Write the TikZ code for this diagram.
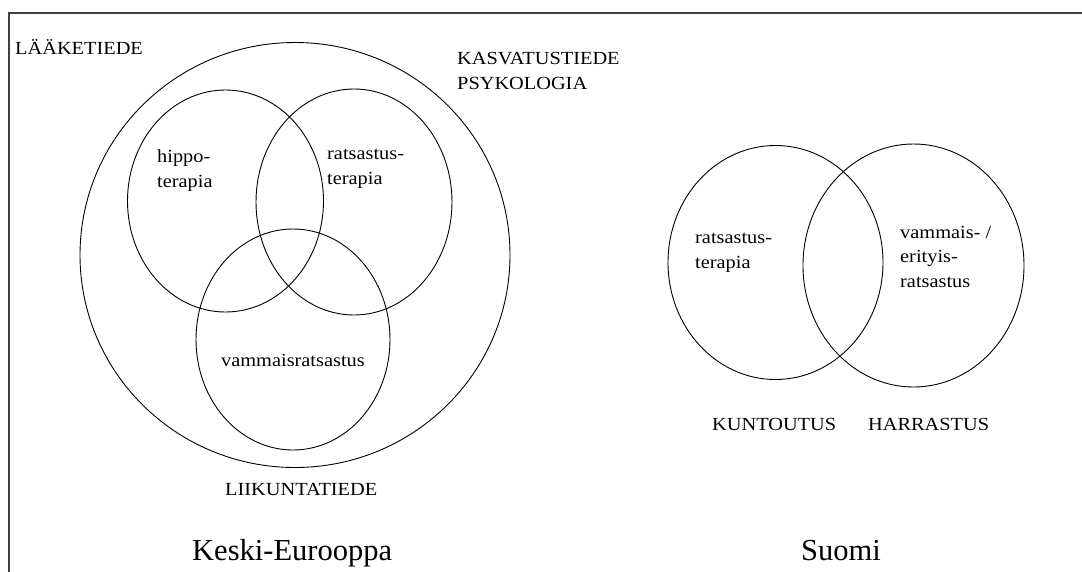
\documentclass[tikz,border=0pt]{standalone}
\usepackage{fontspec}
\setmainfont{Liberation Serif}[FakeStretch=1.1]
\newfontfamily\titlefont{Liberation Serif}
\usetikzlibrary{shapes.geometric}
\tikzset{
  venn/.style={ellipse, draw=black, line width=0.9pt, inner sep=0pt},
  field/.style={anchor=base west, inner sep=0pt, align=left,
    font=\fontsize{18.5}{24.5}\selectfont},
  areatitle/.style={anchor=base west, inner sep=0pt,
    font=\titlefont\fontsize{30.5}{34}\selectfont},
}

\begin{document}
\begin{tikzpicture}[x=1pt, y=-1pt]
  \useasboundingbox (0,0) rectangle (1082,571);
  \draw[black!75, line width=1.6pt] (9,13) rectangle (1100,590);

  % Keski-Eurooppa
  \node[venn, minimum width=430pt, minimum height=425pt] (tiede) at (295,255) {};
  \node[venn, minimum width=196pt, minimum height=222pt] (hippo) at (225.5,201) {};
  \node[venn, minimum width=196pt, minimum height=226pt] (terap) at (354,202) {};
  \node[venn, minimum width=194pt, minimum height=221pt] (vamm) at (293,339.5) {};

  % base = baseline of the last line
  \node[field] (laake) at (15,54) {LÄÄKETIEDE};
  \node[field] (kasv) at (457,89) {KASVATUSTIEDE\\PSYKOLOGIA};
  \node[field] (hippolbl) at (157,187) {hippo-\\terapia};
  \node[field] (teraplbl) at (327,184) {ratsastus-\\terapia};
  \node[field] (vammlbl) at (221,366) {vammaisratsastus};
  \node[field] (liik) at (225,495) {LIIKUNTATIEDE};
  \node[areatitle] (keski) at (192,560) {Keski-Eurooppa};

  % Suomi
  \node[venn, minimum width=215pt, minimum height=234pt] (kunt) at (775.5,262.5) {};
  \node[venn, minimum width=221pt, minimum height=243pt] (harr) at (913.5,265.5) {};

  \node[field] (kuntlbl) at (695,268) {ratsastus-\\terapia};
  \node[field] (harrlbl) at (900,287) {vammais- /\\erityis-\\ratsastus};
  \node[field] (kuntout) at (712,430) {KUNTOUTUS};
  \node[field] (harrast) at (868,430) {HARRASTUS};
  \node[areatitle] (suomi) at (801,560) {Suomi};
\end{tikzpicture}
\end{document}
